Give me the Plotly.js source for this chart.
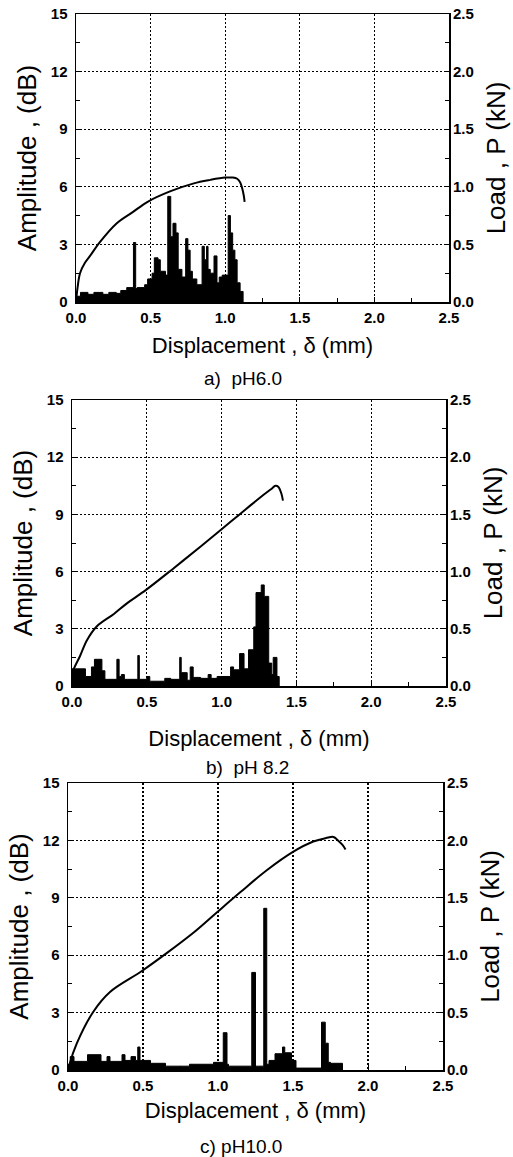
<!DOCTYPE html>
<html><head><meta charset="utf-8">
<script src="https://cdn.plot.ly/plotly-3.0.1.min.js"></script>
<style>html,body{margin:0;padding:0;background:#fff}</style>
</head><body><div id="chart" style="width:513px;height:1157px"></div>
<script>
// ---- data ----
const panelCaptions = ["a)  pH6.0", "b)  pH 8.2", "c) pH10.0"];
const xTickVals = [0, 0.5, 1.0, 1.5, 2.0, 2.5];
const ampTickVals = [0, 3, 6, 9, 12, 15];
const loadTickVals = [0, 0.5, 1.0, 1.5, 2.0, 2.5];

// Panel a) pH6.0 - AE amplitude (dB)
const ampA_x = [0.00, 0.03, 0.08, 0.12, 0.18, 0.22, 0.27, 0.30, 0.34, 0.385, 0.40, 0.41, 0.46, 0.48, 0.51, 0.525, 0.55, 0.565, 0.60, 0.615, 0.635, 0.65, 0.67, 0.685, 0.71, 0.735, 0.75, 0.765, 0.78, 0.81, 0.845, 0.86, 0.875, 0.885, 0.90, 0.925, 0.945, 0.96, 0.98, 1.02, 1.035, 1.05, 1.065, 1.08, 1.10, 1.12];
const ampA_y = [0.3, 0.5, 0.4, 0.5, 0.4, 0.5, 0.45, 0.6, 0.75, 3.1, 0.7, 0.75, 0.9, 1.2, 1.5, 2.3, 2.2, 1.6, 1.4, 5.5, 3.4, 4.1, 3.6, 1.7, 1.3, 3.3, 2.7, 1.6, 1.2, 0.9, 2.9, 2.2, 2.9, 1.7, 1.5, 2.4, 1.0, 1.3, 1.4, 4.5, 3.6, 2.7, 2.2, 1.0, 0.55, 0];
// Panel a) load (kN)
const loadA_x = [0.0, 0.01, 0.027, 0.06, 0.094, 0.16, 0.27, 0.38, 0.48, 0.63, 0.79, 0.90, 1.0, 1.05, 1.08, 1.10, 1.115, 1.125, 1.13];
const loadA_y = [0.0, 0.12, 0.25, 0.34, 0.40, 0.52, 0.68, 0.78, 0.87, 0.96, 1.03, 1.06, 1.08, 1.08, 1.07, 1.04, 0.98, 0.92, 0.87];

// Panel b) pH 8.2
const ampB_x = [0, 0.025, 0.09, 0.13, 0.15, 0.2, 0.22, 0.30, 0.315, 0.33, 0.35, 0.37, 0.44, 0.45, 0.50, 0.52, 0.62, 0.66, 0.72, 0.73, 0.77, 0.79, 0.81, 0.86, 0.91, 0.93, 0.97, 1.06, 1.08, 1.12, 1.15, 1.18, 1.215, 1.23, 1.265, 1.285, 1.315, 1.335, 1.345, 1.37, 1.385];
const ampB_y = [0.9, 0.9, 0.5, 1.0, 1.4, 0.8, 0.35, 1.4, 0.5, 0.6, 0.35, 0.35, 1.6, 0.35, 0.5, 0.25, 0.4, 0.35, 1.5, 0.7, 0.3, 1.0, 0.45, 0.4, 0.6, 0.4, 0.5, 1.0, 0.85, 1.7, 0.9, 1.9, 3.1, 4.9, 5.3, 4.7, 1.2, 0.6, 1.5, 0.5, 0];
const loadB_x = [0.0, 0.01, 0.053, 0.10, 0.165, 0.28, 0.365, 0.495, 0.68, 0.86, 1.0, 1.12, 1.26, 1.33, 1.36, 1.38, 1.40, 1.41];
const loadB_y = [0.05, 0.14, 0.26, 0.40, 0.52, 0.63, 0.72, 0.84, 1.03, 1.22, 1.37, 1.50, 1.65, 1.72, 1.75, 1.74, 1.68, 1.62];

// Panel c) pH10.0
const ampC_x = [0, 0.015, 0.04, 0.13, 0.22, 0.26, 0.28, 0.36, 0.38, 0.42, 0.45, 0.465, 0.48, 0.55, 0.65, 0.81, 0.86, 0.97, 1.035, 1.06, 1.07, 1.225, 1.25, 1.27, 1.305, 1.325, 1.34, 1.38, 1.43, 1.445, 1.49, 1.52, 1.69, 1.715, 1.735, 1.75, 1.83];
const ampC_y = [0.3, 0.7, 0.45, 0.8, 0.45, 0.7, 0.45, 0.8, 0.5, 0.7, 0.5, 1.2, 0.5, 0.35, 0.2, 0.3, 0.3, 0.4, 1.95, 0.3, 0.2, 5.1, 0.2, 0.2, 8.45, 0.3, 0.5, 0.85, 1.2, 0.9, 0.5, 0.1, 2.5, 1.4, 0.4, 0.35, 0];
const loadC_x = [0.005, 0.013, 0.058, 0.17, 0.28, 0.49, 0.66, 0.84, 0.99, 1.15, 1.325, 1.50, 1.635, 1.72, 1.77, 1.80, 1.83, 1.85];
const loadC_y = [0.0, 0.06, 0.23, 0.51, 0.68, 0.86, 1.02, 1.20, 1.37, 1.55, 1.74, 1.90, 1.99, 2.02, 2.03, 2.0, 1.96, 1.92];

// ---- layout helpers ----
const W = 513, H = 1157;
const FONT = "Liberation Sans, Arial, Helvetica, sans-serif";
const panels = [
  {ax: ampA_x, ay: ampA_y, lx: loadA_x, ly: loadA_y, px: [76, 449], py: [14, 302], cap: [243, 378], xs: 13},
  {ax: ampB_x, ay: ampB_y, lx: loadB_x, ly: loadB_y, px: [72, 446], py: [400, 686], cap: [247, 767], xs: 22},
  {ax: ampC_x, ay: ampC_y, lx: loadC_x, ly: loadC_y, px: [68, 443], py: [783, 1070], cap: [241, 1146], xs: 10}
];

const traces = [];
const layout = {
  width: W, height: H, margin: {l: 0, r: 0, t: 0, b: 0},
  paper_bgcolor: "#fff", plot_bgcolor: "#fff", showlegend: false,
  font: {family: FONT, color: "#000", size: 16},
  annotations: []
};
const tickFont = {size: 15, weight: "bold", family: FONT, color: "#000"};
const GRIDDASH = "2px,2px";

panels.forEach((p, i) => {
  const xa = i === 0 ? "xaxis" : "xaxis" + (i + 1);
  const xr = i === 0 ? "x" : "x" + (i + 1);
  const yL = 2 * i + 1, yR = 2 * i + 2;
  const yLa = yL === 1 ? "yaxis" : "yaxis" + yL;
  const yLr = yL === 1 ? "y" : "y" + yL;
  const yRa = "yaxis" + yR, yRr = "y" + yR;
  const xdom = [p.px[0] / W, p.px[1] / W];
  const ydom = [1 - p.py[1] / H, 1 - p.py[0] / H];

  traces.push({type: "scatter", mode: "lines", x: p.ax, y: p.ay, xaxis: xr, yaxis: yLr,
    line: {shape: "hv", color: "#000", width: 1}, fill: "tozeroy", fillcolor: "#000", hoverinfo: "skip"});
  traces.push({type: "scatter", mode: "lines", x: p.lx, y: p.ly, xaxis: xr, yaxis: yRr,
    line: {shape: "spline", smoothing: 1, color: "#000", width: 2}, hoverinfo: "skip"});

  layout[xa] = {
    domain: xdom, anchor: yLr, range: [0, 2.5], tickvals: xTickVals, tickformat: ".1f",
    ticks: "inside", ticklen: 5, tickwidth: 1, tickcolor: "#000",
    minor: {dtick: 0.25, tick0: 0, ticks: "inside", ticklen: 4, tickcolor: "#000", showgrid: false},
    showline: true, linecolor: "#000", linewidth: 1.5, mirror: true,
    showgrid: true, gridcolor: "#000", gridwidth: 1.2, griddash: GRIDDASH, zeroline: false,
    tickfont: tickFont, ticklabelstandoff: 1,
    title: {text: "Displacement , δ (mm)", font: {size: 22}, standoff: p.xs}
  };
  layout[yLa] = {
    domain: ydom, anchor: xr, range: [0, 15], tickvals: ampTickVals,
    ticks: "inside", ticklen: 5, tickwidth: 1, tickcolor: "#000",
    minor: {dtick: 1.5, tick0: 0, ticks: "inside", ticklen: 4, tickcolor: "#000", showgrid: false},
    showline: true, linecolor: "#000", linewidth: 1.5, mirror: true,
    showgrid: true, gridcolor: "#000", gridwidth: 1.2, griddash: GRIDDASH, zeroline: false,
    tickfont: tickFont, ticklabelstandoff: 4,
    title: {text: "Amplitude , (dB)", font: {size: 26}, standoff: 6}
  };
  layout[yRa] = {
    domain: ydom, anchor: xr, overlaying: yLr, side: "right", range: [0, 2.5], tickvals: loadTickVals, tickformat: ".1f",
    ticks: "inside", ticklen: 5, tickwidth: 1, tickcolor: "#000",
    minor: {dtick: 0.25, tick0: 0, ticks: "inside", ticklen: 4, tickcolor: "#000", showgrid: false},
    showline: false, showgrid: false, zeroline: false,
    tickfont: tickFont, ticklabelstandoff: 3,
    title: {text: "Load , P (kN)", font: {size: 26}, standoff: 13}
  };
  layout.annotations.push({text: panelCaptions[i], xref: "paper", yref: "paper",
    x: p.cap[0] / W, y: 1 - p.cap[1] / H, xanchor: "center", yanchor: "middle",
    showarrow: false, font: {size: 19}});
});

Plotly.newPlot("chart", traces, layout, {displayModeBar: false, staticPlot: true});
</script>
</body></html>
